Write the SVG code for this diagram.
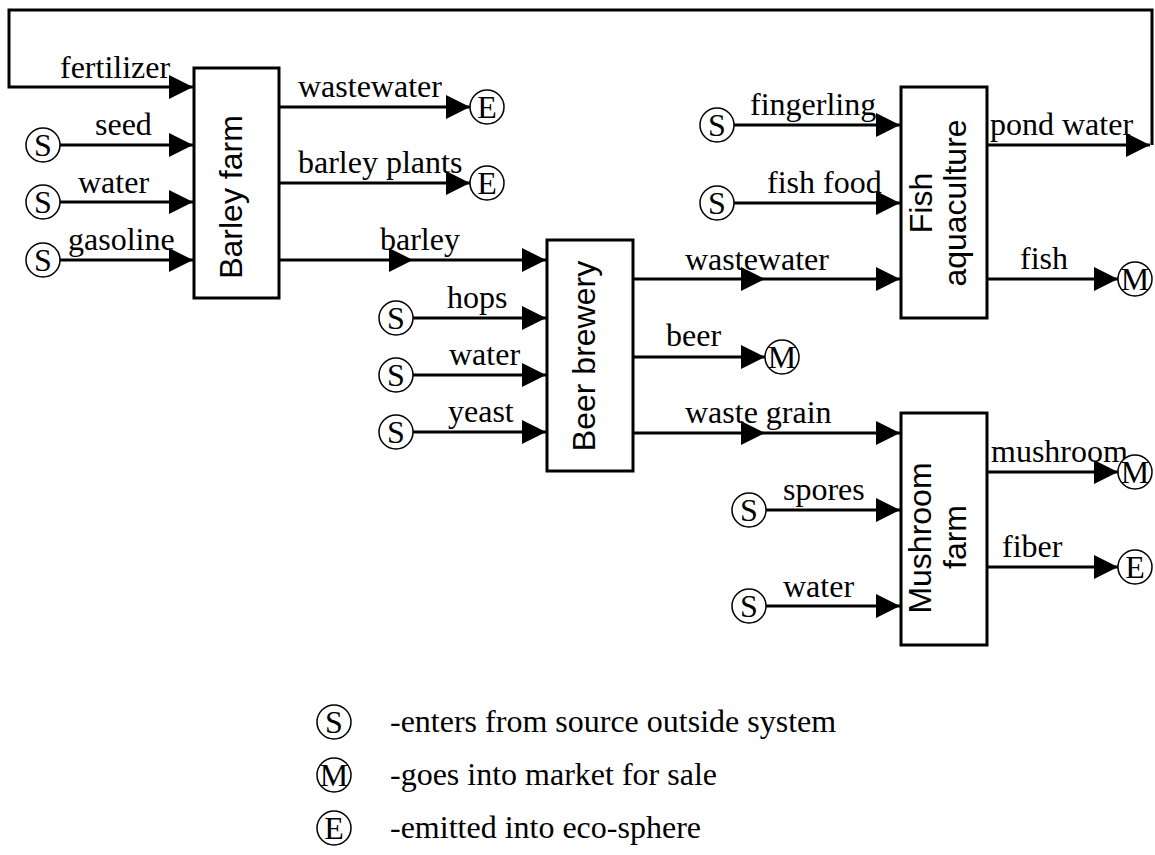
<svg xmlns="http://www.w3.org/2000/svg" width="1155" height="855" viewBox="0 0 1155 855">
<style>
.box{fill:#fff;stroke:#000;stroke-width:3}
.c{fill:none;stroke:#000;stroke-width:3;marker-end:url(#ah)}
.t circle{fill:#fff;stroke:#000;stroke-width:1.5}
.t text,.lbl{font-family:"Liberation Serif","Times New Roman",serif;font-size:32px;fill:#000}
.t text{text-anchor:middle}
.nt{font-family:"Liberation Sans",Arial,sans-serif;font-size:32px;text-anchor:middle;fill:#000}
</style>
<defs>
<marker id="ah" markerUnits="userSpaceOnUse" markerWidth="24" markerHeight="24" viewBox="0 0 24 24" refX="24" refY="12" orient="auto"><path d="M0,0L24,12L0,24z" fill="#000"/></marker>
</defs>
<rect width="1155" height="855" fill="#fff"/>
<g id="connectors">
<path class="c" d="M1152,145V10H9V87H193"/>
<path class="c" d="M60,145H193"/>
<path class="c" d="M60,202H193"/>
<path class="c" d="M60,260H193"/>
<path class="c" d="M279,107H470"/>
<path class="c" d="M279,183H470"/>
<path class="c" d="M279,260H413"/>
<path class="c" d="M413,260H546"/>
<path class="c" d="M413,318H546"/>
<path class="c" d="M413,375H546"/>
<path class="c" d="M413,432H546"/>
<path class="c" d="M633,279H765"/>
<path class="c" d="M765,279H900"/>
<path class="c" d="M633,357H765"/>
<path class="c" d="M633,433H765"/>
<path class="c" d="M765,433H900"/>
<path class="c" d="M734,125H900"/>
<path class="c" d="M734,203H900"/>
<path class="c" d="M987,145H1150"/>
<path class="c" d="M987,279H1118"/>
<path class="c" d="M766,510H900"/>
<path class="c" d="M766,606H900"/>
<path class="c" d="M987,472H1118"/>
<path class="c" d="M987,567H1118"/>
<g class="lbl">
<text x="60" y="78">fertilizer</text>
<text x="95" y="135">seed</text>
<text x="78" y="193">water</text>
<text x="68" y="250">gasoline</text>
<text x="298" y="97">wastewater</text>
<text x="298" y="173">barley plants</text>
<text x="380" y="250">barley</text>
<text x="447" y="308">hops</text>
<text x="449" y="365">water</text>
<text x="448" y="422">yeast</text>
<text x="685" y="270">wastewater</text>
<text x="666" y="346">beer</text>
<text x="685" y="423">waste grain</text>
<text x="750" y="115">fingerling</text>
<text x="767" y="193">fish food</text>
<text x="990" y="135">pond water</text>
<text x="1020" y="269">fish</text>
<text x="991" y="462">mushroom</text>
<text x="1002" y="557">fiber</text>
<text x="783" y="500">spores</text>
<text x="783" y="597">water</text>
</g>
</g>
<g id="barley-farm"><rect class="box" x="194" y="68" width="85" height="230"/><text class="nt" transform="translate(242,197) rotate(-90)">Barley farm</text></g>
<g id="beer-brewery"><rect class="box" x="547" y="240" width="86" height="231"/><text class="nt" transform="translate(595,356) rotate(-90)">Beer brewery</text></g>
<g id="fish-aquaculture"><rect class="box" x="901" y="87" width="86" height="231"/><text class="nt" transform="translate(932,203) rotate(-90)">Fish</text><text class="nt" transform="translate(966,203) rotate(-90)">aquaculture</text></g>
<g id="mushroom-farm"><rect class="box" x="901" y="413" width="86" height="232"/><text class="nt" transform="translate(931,538) rotate(-90)">Mushroom</text><text class="nt" transform="translate(966,537) rotate(-90)">farm</text></g>
<g id="s-seed" class="t"><circle cx="43" cy="145" r="17"/><text x="43" y="156">S</text></g>
<g id="s-water1" class="t"><circle cx="43" cy="202" r="17"/><text x="43" y="213">S</text></g>
<g id="s-gasoline" class="t"><circle cx="43" cy="260" r="17"/><text x="43" y="271">S</text></g>
<g id="e-wastewater1" class="t"><circle cx="487" cy="107" r="17"/><text x="487" y="118">E</text></g>
<g id="e-plants" class="t"><circle cx="487" cy="183" r="17"/><text x="487" y="194">E</text></g>
<g id="s-hops" class="t"><circle cx="396" cy="318" r="17"/><text x="396" y="329">S</text></g>
<g id="s-water2" class="t"><circle cx="396" cy="375" r="17"/><text x="396" y="386">S</text></g>
<g id="s-yeast" class="t"><circle cx="396" cy="432" r="17"/><text x="396" y="443">S</text></g>
<g id="m-beer" class="t"><circle cx="782" cy="357" r="17"/><text x="782" y="368">M</text></g>
<g id="s-fingerling" class="t"><circle cx="717" cy="125" r="17"/><text x="717" y="136">S</text></g>
<g id="s-fishfood" class="t"><circle cx="717" cy="203" r="17"/><text x="717" y="214">S</text></g>
<g id="m-fish" class="t"><circle cx="1135" cy="279" r="17"/><text x="1135" y="290">M</text></g>
<g id="s-spores" class="t"><circle cx="749" cy="510" r="17"/><text x="749" y="521">S</text></g>
<g id="s-water3" class="t"><circle cx="749" cy="606" r="17"/><text x="749" y="617">S</text></g>
<g id="m-mushroom" class="t"><circle cx="1135" cy="472" r="17"/><text x="1135" y="483">M</text></g>
<g id="e-fiber" class="t"><circle cx="1135" cy="567" r="17"/><text x="1135" y="578">E</text></g>
<g id="legend">
<g class="t"><circle cx="334" cy="722" r="17"/><text x="334" y="733">S</text></g>
<g class="t"><circle cx="334" cy="775" r="17"/><text x="334" y="786">M</text></g>
<g class="t"><circle cx="334" cy="828" r="17"/><text x="334" y="839">E</text></g>
<text class="lbl" x="390" y="732">-enters from source outside system</text>
<text class="lbl" x="390" y="785">-goes into market for sale</text>
<text class="lbl" x="390" y="838">-emitted into eco-sphere</text>
</g>
</svg>
